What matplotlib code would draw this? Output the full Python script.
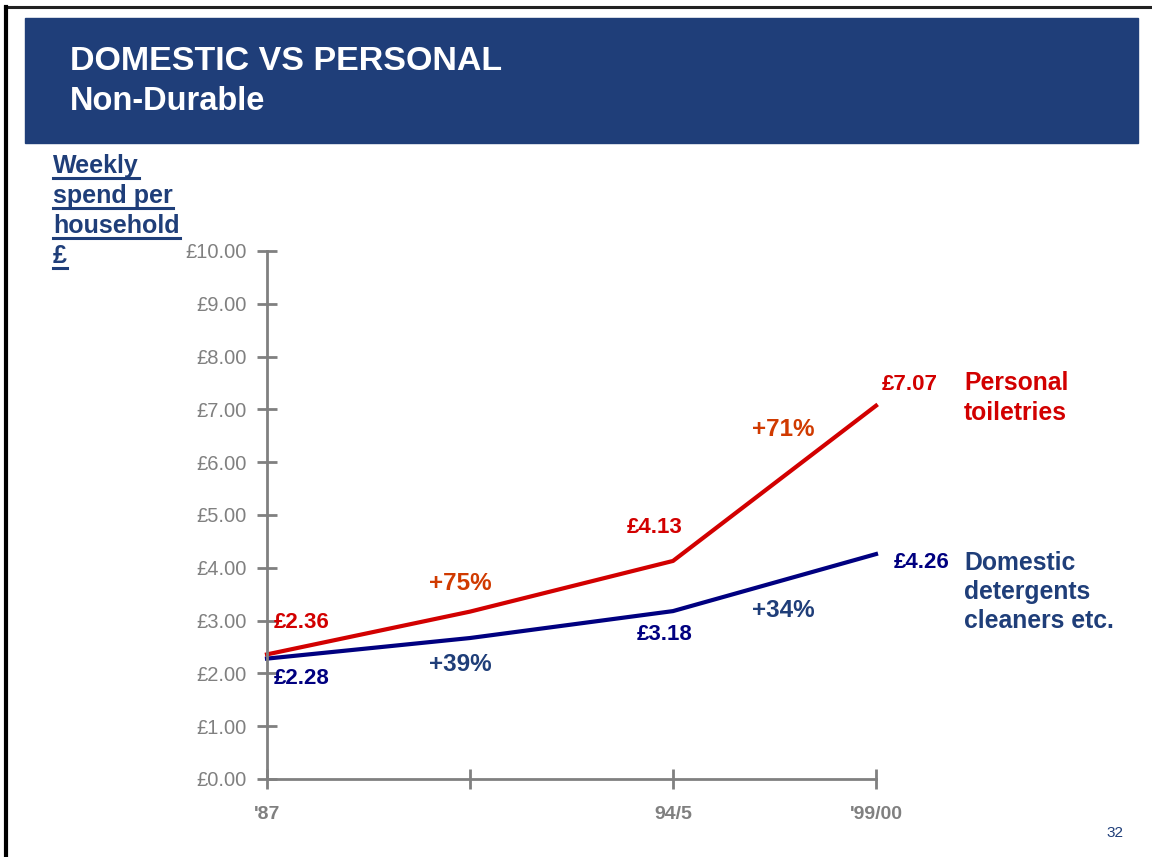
import matplotlib.pyplot as plt
from matplotlib.patches import Rectangle
from matplotlib.lines import Line2D

# Weekly spend per household (GBP)
periods = ["'87", "", "94/5", "'99/00"]
personal = [2.36, 3.17, 4.13, 7.07]
domestic = [2.28, 2.67, 3.18, 4.26]
y_ticks = [0, 1, 2, 3, 4, 5, 6, 7, 8, 9, 10]

W, H = 1152, 857
NAVY = "#1F3E79"
RED = "#D20000"
ORANGE = "#D03A00"
DARKBLUE = "#000080"
GREY = "#808080"

plt.rcParams['font.family'] = ['Liberation Sans', 'DejaVu Sans']

fig = plt.figure(figsize=(W / 100, H / 100), dpi=100)


def fx(px):
    return px / W


def fy(py):
    return 1 - py / H


# slide frame and title banner
fig.add_artist(Line2D([fx(5), 1], [fy(7), fy(7)], color="#222222", lw=2.2))
fig.add_artist(Line2D([fx(5.5), fx(5.5)], [fy(7), 0], color="black", lw=3))
fig.add_artist(Rectangle((fx(25), fy(143)), fx(1138) - fx(25), fy(18) - fy(143),
                         color=NAVY, transform=fig.transFigure))
fig.text(fx(70), fy(62), "DOMESTIC VS PERSONAL", color="white", fontsize=24.5,
         fontweight="bold", va="center")
fig.text(fx(70), fy(102), "Non-Durable", color="white", fontsize=23.5,
         fontweight="bold", va="center")

# underlined y axis caption
ylab = []
for i, line in enumerate(["Weekly", "spend per", "household", "£"]):
    ylab.append(fig.text(fx(53), fy(173 + 30 * i), line, color=NAVY, fontsize=18,
                         fontweight="bold", va="baseline"))

fig.text(fx(1115), fy(833), "32", color=NAVY, fontsize=11, ha="center", va="center")

ax = fig.add_axes([fx(267), fy(779), fx(876) - fx(267), fy(251) - fy(779)])
x = range(len(periods))
ax.plot(x, personal, color=RED, lw=3, clip_on=False, solid_joinstyle="round")
ax.plot(x, domestic, color=DARKBLUE, lw=3, clip_on=False, solid_joinstyle="round")

ax.set_xlim(0, 3)
ax.set_ylim(0, 10)
ax.set_xticks(list(x))
ax.set_xticklabels(periods, fontsize=14, fontweight="bold", color=GREY)
ax.set_yticks(y_ticks)
ax.set_yticklabels([f"£{v:.2f}" for v in y_ticks], fontsize=14.5, color=GREY)
ax.tick_params(axis="both", direction="inout", length=15, width=2, color=GREY)
ax.tick_params(axis="y", pad=7)
ax.tick_params(axis="x", pad=12)
for s in ["top", "right"]:
    ax.spines[s].set_visible(False)
for s in ["left", "bottom"]:
    ax.spines[s].set_color(GREY)
    ax.spines[s].set_linewidth(2)

# value labels, offsets in points
red_off = {0: (25, 23), 2: (-13, 24), 3: (24, 15)}
blue_off = {0: (25, -14), 2: (-6, -17), 3: (33, -6)}
for i, (dx, dy) in red_off.items():
    ax.annotate(f"£{personal[i]:.2f}", (i, personal[i]), xytext=(dx, dy),
                textcoords="offset points", ha="center", va="center",
                color=RED, fontsize=16, fontweight="bold", annotation_clip=False)
for i, (dx, dy) in blue_off.items():
    ax.annotate(f"£{domestic[i]:.2f}", (i, domestic[i]), xytext=(dx, dy),
                textcoords="offset points", ha="center", va="center",
                color=DARKBLUE, fontsize=16, fontweight="bold", annotation_clip=False)

# growth between periods
for a, b, up, down in [(0, 2, (-7, 20), (-7, -19)), (2, 3, (6, 39), (6, -20))]:
    mx = (a + b) / 2
    p_mid = (personal[a] + personal[b]) / 2 if b - a == 1 else personal[1]
    d_mid = (domestic[a] + domestic[b]) / 2 if b - a == 1 else domestic[1]
    pg = round((personal[b] / personal[a] - 1) * 100)
    dg = round((domestic[b] / domestic[a] - 1) * 100)
    ax.annotate(f"+{pg}%", (mx, p_mid), xytext=up, textcoords="offset points",
                ha="center", va="center", color=ORANGE, fontsize=17.5, fontweight="bold")
    ax.annotate(f"+{dg}%", (mx, d_mid), xytext=down, textcoords="offset points",
                ha="center", va="center", color=NAVY, fontsize=17.5, fontweight="bold")

# series names
for i, line in enumerate(["Personal", "toiletries"]):
    fig.text(fx(964), fy(383 + 30 * i), line, color=RED, fontsize=17.8,
             fontweight="bold", va="center")
for i, line in enumerate(["Domestic", "detergents", "cleaners etc."]):
    fig.text(fx(964), fy(563 + 29 * i), line, color=NAVY, fontsize=17.8,
             fontweight="bold", va="center")

# underline the caption lines
fig.canvas.draw()
r = fig.canvas.get_renderer()
for i, t in enumerate(ylab):
    bb = t.get_window_extent(r)
    yb = fy(173 + 30 * i + 5)
    fig.add_artist(Line2D([bb.x0 / W, bb.x1 / W], [yb, yb], color=NAVY, lw=2.2))

fig.savefig("out.png", dpi=100)
